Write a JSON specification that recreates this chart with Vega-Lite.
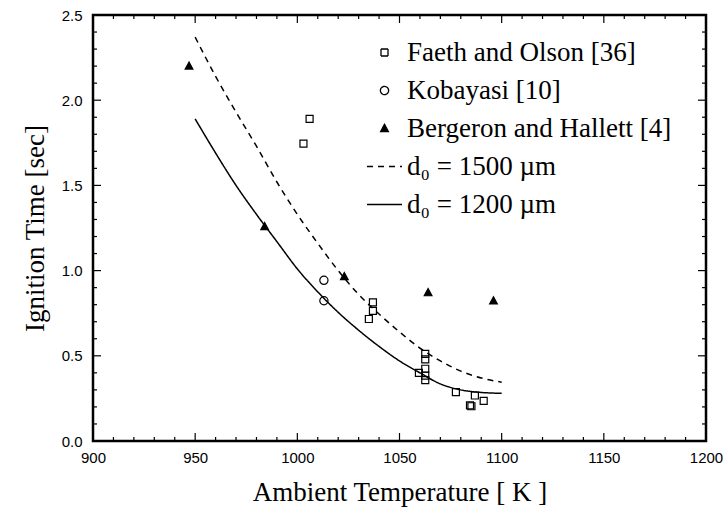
{
  "$schema": "https://vega.github.io/schema/vega-lite/v6.json",
  "width": 613,
  "height": 426,
  "autosize": {"type": "none"},
  "padding": {"left": 93, "top": 15, "right": 18, "bottom": 68},
  "background": "white",
  "config": {
    "view": {"stroke": "black", "strokeWidth": 2.5},
    "axis": {
      "domain": false,
      "ticks": false,
      "grid": false,
      "labelColor": "black",
      "labelFont": "Liberation Sans",
      "labelFontSize": 15,
      "labelFlush": false,
      "labelOverlap": false,
      "labelBound": false,
      "titleFont": "Liberation Serif",
      "titleFontSize": 27,
      "titleFontWeight": "normal",
      "titleColor": "black"
    }
  },
  "datasets": {
    "obs": [
      {"series": "Faeth and Olson [36]", "T": 1006, "t": 1.89},
      {"series": "Faeth and Olson [36]", "T": 1003, "t": 1.745},
      {"series": "Faeth and Olson [36]", "T": 1037, "t": 0.813},
      {"series": "Faeth and Olson [36]", "T": 1037, "t": 0.764},
      {"series": "Faeth and Olson [36]", "T": 1035, "t": 0.716},
      {"series": "Faeth and Olson [36]", "T": 1062.6, "t": 0.511},
      {"series": "Faeth and Olson [36]", "T": 1062.6, "t": 0.479},
      {"series": "Faeth and Olson [36]", "T": 1062.6, "t": 0.424},
      {"series": "Faeth and Olson [36]", "T": 1059.5, "t": 0.4},
      {"series": "Faeth and Olson [36]", "T": 1062.6, "t": 0.384},
      {"series": "Faeth and Olson [36]", "T": 1062.6, "t": 0.357},
      {"series": "Faeth and Olson [36]", "T": 1077.6, "t": 0.287},
      {"series": "Faeth and Olson [36]", "T": 1086.9, "t": 0.267},
      {"series": "Faeth and Olson [36]", "T": 1091.2, "t": 0.236},
      {"series": "Faeth and Olson [36]", "T": 1084.5, "t": 0.209},
      {"series": "Faeth and Olson [36]", "T": 1085.2, "t": 0.204},
      {"series": "Kobayasi [10]", "T": 1013, "t": 0.943},
      {"series": "Kobayasi [10]", "T": 1013, "t": 0.823},
      {"series": "Bergeron and Hallett [4]", "T": 947, "t": 2.2},
      {"series": "Bergeron and Hallett [4]", "T": 984, "t": 1.258},
      {"series": "Bergeron and Hallett [4]", "T": 1023, "t": 0.964},
      {"series": "Bergeron and Hallett [4]", "T": 1064, "t": 0.87},
      {"series": "Bergeron and Hallett [4]", "T": 1096, "t": 0.822},
      {"series": "d₀ = 1500 µm", "T": 950, "t": 2.37},
      {"series": "d₀ = 1500 µm", "T": 960, "t": 2.14},
      {"series": "d₀ = 1500 µm", "T": 970, "t": 1.93},
      {"series": "d₀ = 1500 µm", "T": 980, "t": 1.73},
      {"series": "d₀ = 1500 µm", "T": 990, "t": 1.52},
      {"series": "d₀ = 1500 µm", "T": 1000, "t": 1.33},
      {"series": "d₀ = 1500 µm", "T": 1010, "t": 1.16},
      {"series": "d₀ = 1500 µm", "T": 1020, "t": 1.0},
      {"series": "d₀ = 1500 µm", "T": 1030, "t": 0.86},
      {"series": "d₀ = 1500 µm", "T": 1040, "t": 0.745},
      {"series": "d₀ = 1500 µm", "T": 1050, "t": 0.64},
      {"series": "d₀ = 1500 µm", "T": 1060, "t": 0.545},
      {"series": "d₀ = 1500 µm", "T": 1070, "t": 0.47},
      {"series": "d₀ = 1500 µm", "T": 1080, "t": 0.41},
      {"series": "d₀ = 1500 µm", "T": 1090, "t": 0.37},
      {"series": "d₀ = 1500 µm", "T": 1100, "t": 0.345},
      {"series": "d₀ = 1200 µm", "T": 950, "t": 1.89},
      {"series": "d₀ = 1200 µm", "T": 960, "t": 1.69},
      {"series": "d₀ = 1200 µm", "T": 970, "t": 1.5},
      {"series": "d₀ = 1200 µm", "T": 980, "t": 1.33},
      {"series": "d₀ = 1200 µm", "T": 990, "t": 1.17},
      {"series": "d₀ = 1200 µm", "T": 1000, "t": 1.01},
      {"series": "d₀ = 1200 µm", "T": 1010, "t": 0.875},
      {"series": "d₀ = 1200 µm", "T": 1020, "t": 0.755},
      {"series": "d₀ = 1200 µm", "T": 1030, "t": 0.65},
      {"series": "d₀ = 1200 µm", "T": 1040, "t": 0.555},
      {"series": "d₀ = 1200 µm", "T": 1050, "t": 0.47},
      {"series": "d₀ = 1200 µm", "T": 1060, "t": 0.4},
      {"series": "d₀ = 1200 µm", "T": 1070, "t": 0.335},
      {"series": "d₀ = 1200 µm", "T": 1080, "t": 0.3},
      {"series": "d₀ = 1200 µm", "T": 1090, "t": 0.285},
      {"series": "d₀ = 1200 µm", "T": 1100, "t": 0.28}
    ],
    "xticks": [
      {"v": 900, "kind": "major"}, {"v": 910, "kind": "minor"}, {"v": 920, "kind": "minor"}, {"v": 930, "kind": "minor"}, {"v": 940, "kind": "minor"},
      {"v": 950, "kind": "major"}, {"v": 960, "kind": "minor"}, {"v": 970, "kind": "minor"}, {"v": 980, "kind": "minor"}, {"v": 990, "kind": "minor"},
      {"v": 1000, "kind": "major"}, {"v": 1010, "kind": "minor"}, {"v": 1020, "kind": "minor"}, {"v": 1030, "kind": "minor"}, {"v": 1040, "kind": "minor"},
      {"v": 1050, "kind": "major"}, {"v": 1060, "kind": "minor"}, {"v": 1070, "kind": "minor"}, {"v": 1080, "kind": "minor"}, {"v": 1090, "kind": "minor"},
      {"v": 1100, "kind": "major"}, {"v": 1110, "kind": "minor"}, {"v": 1120, "kind": "minor"}, {"v": 1130, "kind": "minor"}, {"v": 1140, "kind": "minor"},
      {"v": 1150, "kind": "major"}, {"v": 1160, "kind": "minor"}, {"v": 1170, "kind": "minor"}, {"v": 1180, "kind": "minor"}, {"v": 1190, "kind": "minor"},
      {"v": 1200, "kind": "major"}
    ],
    "yticks": [
      {"v": 0, "kind": "major"}, {"v": 0.1, "kind": "minor"}, {"v": 0.2, "kind": "minor"}, {"v": 0.3, "kind": "minor"}, {"v": 0.4, "kind": "minor"},
      {"v": 0.5, "kind": "major"}, {"v": 0.6, "kind": "minor"}, {"v": 0.7, "kind": "minor"}, {"v": 0.8, "kind": "minor"}, {"v": 0.9, "kind": "minor"},
      {"v": 1.0, "kind": "major"}, {"v": 1.1, "kind": "minor"}, {"v": 1.2, "kind": "minor"}, {"v": 1.3, "kind": "minor"}, {"v": 1.4, "kind": "minor"},
      {"v": 1.5, "kind": "major"}, {"v": 1.6, "kind": "minor"}, {"v": 1.7, "kind": "minor"}, {"v": 1.8, "kind": "minor"}, {"v": 1.9, "kind": "minor"},
      {"v": 2.0, "kind": "major"}, {"v": 2.1, "kind": "minor"}, {"v": 2.2, "kind": "minor"}, {"v": 2.3, "kind": "minor"}, {"v": 2.4, "kind": "minor"},
      {"v": 2.5, "kind": "major"}
    ]
  },
  "resolve": {"axis": {"x": "independent", "y": "independent"}},
  "layer": [
    {
      "data": {"name": "obs"},
      "transform": [{"filter": {"field": "series", "oneOf": ["Faeth and Olson [36]", "Kobayasi [10]", "Bergeron and Hallett [4]"]}}],
      "mark": {"type": "point", "filled": true, "stroke": "black", "strokeWidth": 1.2, "size": 1225, "opacity": 1},
      "encoding": {
        "x": {
          "field": "T", "type": "quantitative",
          "scale": {"domain": [900, 1200], "nice": false, "zero": false},
          "axis": {
            "orient": "bottom",
            "title": "Ambient Temperature [ K ]",
            "values": [900, 950, 1000, 1050, 1100, 1150, 1200],
            "format": "d",
            "labelPadding": 9,
            "titlePadding": 14
          }
        },
        "y": {
          "field": "t", "type": "quantitative",
          "scale": {"domain": [0, 2.5], "nice": false, "zero": false},
          "axis": {
            "orient": "left",
            "title": "Ignition Time [sec]",
            "values": [0, 0.5, 1, 1.5, 2, 2.5],
            "format": ".1f",
            "labelPadding": 11,
            "titlePadding": 12
          }
        },
        "shape": {
          "field": "series", "type": "nominal",
          "scale": {
            "domain": ["Faeth and Olson [36]", "Kobayasi [10]", "Bergeron and Hallett [4]", "d₀ = 1500 µm", "d₀ = 1200 µm"],
            "range": [
              "M-0.2,-0.2H0.2V0.2H-0.2Z",
              "M0.235,0A0.235,0.235,0,1,1,-0.235,0A0.235,0.235,0,1,1,0.235,0Z",
              "M0,-0.24L0.22,0.17L-0.22,0.17Z",
              "stroke",
              "stroke"
            ]
          },
          "legend": {
            "title": null,
            "orient": "none",
            "legendX": 273,
            "legendY": 19,
            "padding": 0,
            "symbolSize": 1225,
            "symbolStrokeWidth": 1.3,
            "symbolStrokeColor": "black",
            "labelFont": "Liberation Serif",
            "labelFontSize": 27,
            "labelColor": "black",
            "labelOffset": 4,
            "labelLimit": 400,
            "rowPadding": 6,
            "encoding": {"symbols": {"stroke": {"value": "black"}, "strokeWidth": {"value": 1.3}}}
          }
        },
        "fill": {
          "field": "series", "type": "nominal",
          "scale": {
            "domain": ["Faeth and Olson [36]", "Kobayasi [10]", "Bergeron and Hallett [4]", "d₀ = 1500 µm", "d₀ = 1200 µm"],
            "range": ["transparent", "transparent", "black", "transparent", "transparent"]
          }
        }
      }
    },
    {
      "data": {"name": "obs"},
      "transform": [{"filter": {"field": "series", "oneOf": ["d₀ = 1500 µm", "d₀ = 1200 µm"]}}],
      "mark": {"type": "line", "color": "black", "strokeWidth": 1.5, "interpolate": "monotone"},
      "encoding": {
        "x": {"field": "T", "type": "quantitative", "axis": null},
        "y": {"field": "t", "type": "quantitative", "axis": null},
        "detail": {"field": "series", "type": "nominal"},
        "strokeDash": {
          "field": "series", "type": "nominal",
          "scale": {
            "domain": ["Faeth and Olson [36]", "Kobayasi [10]", "Bergeron and Hallett [4]", "d₀ = 1500 µm", "d₀ = 1200 µm"],
            "range": [[1, 0], [1, 0], [1, 0], [6, 5], [1, 0]]
          }
        }
      }
    },
    {
      "data": {"name": "xticks"},
      "mark": {"type": "tick", "orient": "vertical", "color": "black", "thickness": 1.2, "opacity": 1, "clip": true},
      "encoding": {
        "x": {"field": "v", "type": "quantitative", "axis": null},
        "y": {"datum": 0, "type": "quantitative", "axis": null},
        "size": {"condition": {"test": "datum.kind === 'major'", "value": 16}, "value": 8}
      }
    },
    {
      "data": {"name": "xticks"},
      "mark": {"type": "tick", "orient": "vertical", "color": "black", "thickness": 1.2, "opacity": 1, "clip": true},
      "encoding": {
        "x": {"field": "v", "type": "quantitative", "axis": null},
        "y": {"datum": 2.5, "type": "quantitative", "axis": null},
        "size": {"condition": {"test": "datum.kind === 'major'", "value": 16}, "value": 8}
      }
    },
    {
      "data": {"name": "yticks"},
      "mark": {"type": "tick", "orient": "horizontal", "color": "black", "thickness": 1.2, "opacity": 1, "clip": true},
      "encoding": {
        "y": {"field": "v", "type": "quantitative", "axis": null},
        "x": {"datum": 900, "type": "quantitative", "axis": null},
        "size": {"condition": {"test": "datum.kind === 'major'", "value": 16}, "value": 8}
      }
    },
    {
      "data": {"name": "yticks"},
      "mark": {"type": "tick", "orient": "horizontal", "color": "black", "thickness": 1.2, "opacity": 1, "clip": true},
      "encoding": {
        "y": {"field": "v", "type": "quantitative", "axis": null},
        "x": {"datum": 1200, "type": "quantitative", "axis": null},
        "size": {"condition": {"test": "datum.kind === 'major'", "value": 16}, "value": 8}
      }
    }
  ]
}
